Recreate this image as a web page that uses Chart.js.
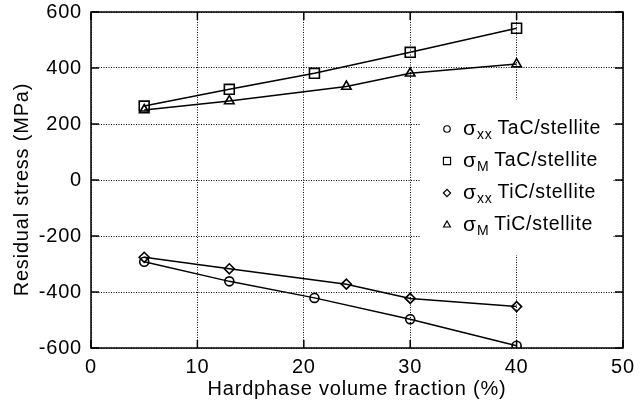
<!DOCTYPE html>
<html>
<head>
<meta charset="utf-8">
<script src="https://cdn.jsdelivr.net/npm/chart.js@4.4.1/dist/chart.umd.min.js"></script>
<style>
  html, body { margin: 0; padding: 0; background: #fff; }
  canvas { display: block; }
</style>
</head>
<body>
<canvas id="stressChart" width="643" height="406"></canvas>
<script>
// values
const xTaC = [5, 13, 21, 30, 40];
const xTiC = [5, 13, 24, 30, 40];
const sxxTaC = [-292, -362, -421, -497, -592];
const smTaC = [264, 324, 381, 456, 542];
const sxxTiC = [-276, -317, -372, -423, -452];
const smTiC = [250, 282, 334, 381, 414];

const legendSub = ['xx', 'M', 'xx', 'M'];
const legendName = ['TaC/stellite', 'TaC/stellite', 'TiC/stellite', 'TiC/stellite'];
const markerStyle = ['circle', 'rect', 'rectRot', 'triangle'];
const markerSize = [4.5, 7, 5, 5.5];

const FONT = '"Liberation Sans", Arial, Helvetica, sans-serif';
const FS = 20;
const SPACING = '0.8px';

function toPoints(xs, ys) {
  return xs.map((x, i) => ({ x: x, y: ys[i] }));
}

function series(i, xs, ys) {
  return {
    label: 'σ' + legendSub[i] + ' ' + legendName[i],
    data: toPoints(xs, ys),
    showLine: true,
    tension: 0,
    borderColor: '#000',
    borderWidth: 1.5,
    backgroundColor: '#fff',
    pointStyle: markerStyle[i],
    pointRadius: markerSize[i],
    pointBorderColor: '#000',
    pointBorderWidth: 1.6,
    pointBackgroundColor: 'rgba(255,255,255,0)'
  };
}

// the original lettering is set a bit wide
const spacingPlugin = {
  id: 'spacing',
  beforeUpdate(chart) { chart.ctx.letterSpacing = SPACING; },
  beforeDraw(chart) { chart.ctx.letterSpacing = SPACING; }
};

// frame, inward ticks and the legend box
const framePlugin = {
  id: 'frame',
  beforeDatasetsDraw(chart) {
    const ctx = chart.ctx;
    const a = chart.chartArea;
    const xs = chart.scales.x, ys = chart.scales.y;
    ctx.save();
    // legend box hides the grid behind it
    ctx.fillStyle = '#fff';
    ctx.fillRect(421, 100, 191, 155);

    ctx.strokeStyle = '#000';
    ctx.lineWidth = 1.5;
    ctx.strokeRect(a.left, a.top, a.right - a.left, a.bottom - a.top);

    ctx.beginPath();
    ys.ticks.forEach(t => {
      const py = ys.getPixelForValue(t.value);
      ctx.moveTo(a.left, py); ctx.lineTo(a.left + 8, py);
      ctx.moveTo(a.right, py); ctx.lineTo(a.right - 8, py);
    });
    xs.ticks.forEach(t => {
      const px = xs.getPixelForValue(t.value);
      ctx.moveTo(px, a.bottom); ctx.lineTo(px, a.bottom - 8);
      ctx.moveTo(px, a.top); ctx.lineTo(px, a.top + 8);
    });
    ctx.stroke();
    ctx.restore();
  },
  afterDraw(chart) {
    const ctx = chart.ctx;
    ctx.save();
    ctx.textBaseline = 'middle';
    ctx.letterSpacing = '0.7px';
    chart.data.datasets.forEach((ds, i) => {
      const y = 129 + i * 32;
      ctx.fillStyle = '#fff';
      ctx.strokeStyle = '#000';
      ctx.lineWidth = 1.2;
      Chart.helpers.drawPoint(ctx, {
        pointStyle: markerStyle[i],
        rotation: 0,
        radius: markerSize[i] * 0.72,
        borderWidth: 1.2
      }, 447, y);
      ctx.fillStyle = '#000';
      let x = 463;
      ctx.font = '21px ' + FONT;
      ctx.fillText('σ', x, y);
      x += 14;
      ctx.font = '14px ' + FONT;
      ctx.fillText(legendSub[i], x, y + 6);
      x += ctx.measureText(legendSub[i]).width + 5;
      ctx.font = '19.5px ' + FONT;
      ctx.fillText(legendName[i], x, y);
    });
    ctx.restore();
  }
};

new Chart(document.getElementById('stressChart'), {
  type: 'scatter',
  data: {
    datasets: [
      series(0, xTaC, sxxTaC),
      series(1, xTaC, smTaC),
      series(2, xTiC, sxxTiC),
      series(3, xTiC, smTiC)
    ]
  },
  options: {
    responsive: false,
    animation: false,
    layout: { padding: { top: 12, right: 20, left: 0, bottom: 0 } },
    plugins: {
      legend: { display: false },
      tooltip: { enabled: false }
    },
    scales: {
      x: {
        type: 'linear',
        min: 0,
        max: 50,
        afterFit(scale) {
          scale.height = 58;
          scale.paddingLeft = 0;
          scale.paddingRight = 0;
        },
        ticks: {
          stepSize: 10,
          color: '#000',
          padding: 7,
          maxRotation: 0,
          font: { family: FONT, size: FS }
        },
        grid: {
          color: '#000',
          lineWidth: 1,
          drawTicks: false
        },
        border: { display: false, dash: [1, 1.5] },
        title: {
          display: true,
          text: 'Hardphase volume fraction (%)',
          color: '#000',
          padding: { top: 0, bottom: 5 },
          font: { family: FONT, size: FS }
        }
      },
      y: {
        type: 'linear',
        min: -600,
        max: 600,
        afterFit(scale) {
          scale.width = 91;
          scale.paddingTop = 0;
          scale.paddingBottom = 0;
        },
        ticks: {
          stepSize: 200,
          color: '#000',
          padding: 9,
          font: { family: FONT, size: FS }
        },
        grid: {
          color: '#000',
          lineWidth: 1,
          drawTicks: false
        },
        border: { display: false, dash: [1, 1.5] },
        title: {
          display: true,
          // trailing spaces nudge the label down as in the original
          text: 'Residual stress (MPa)   ',
          color: '#000',
          padding: { top: 10, bottom: 0 },
          font: { family: FONT, size: FS }
        }
      }
    }
  },
  plugins: [spacingPlugin, framePlugin]
});
</script>
</body>
</html>
